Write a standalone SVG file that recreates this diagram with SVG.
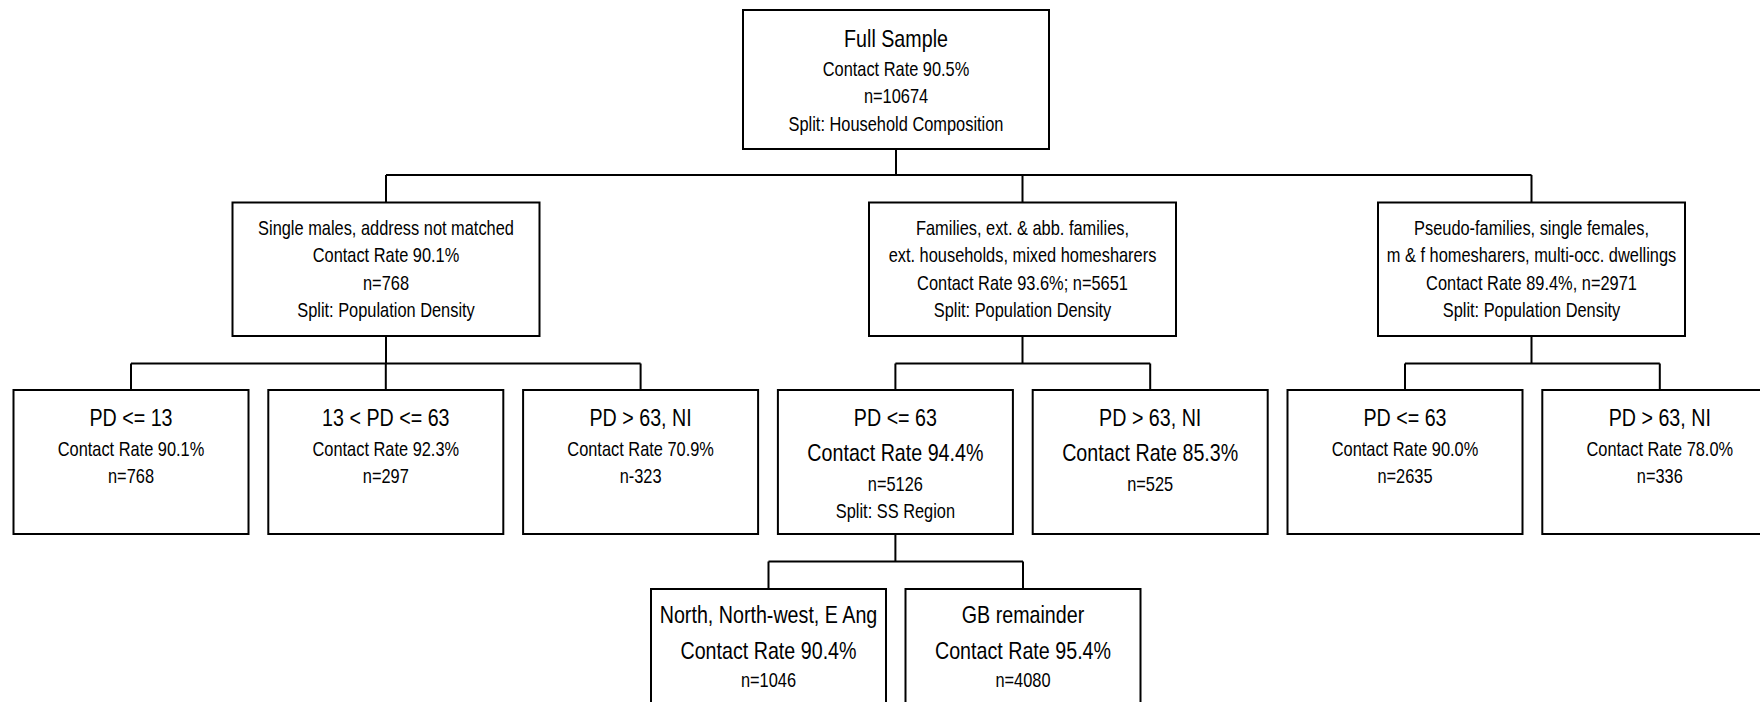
<svg xmlns="http://www.w3.org/2000/svg" width="1760" height="702" viewBox="0 0 1760 702">
<style>
rect{fill:#fff;stroke:#000;stroke-width:2}
#connectors path{fill:none;stroke:#000;stroke-width:2}
text{font-family:"Liberation Sans Narrow","Liberation Sans",Arial,sans-serif;text-anchor:middle;fill:#000}
.s{font-size:20px}
.l{font-size:24px}
</style>
<rect x="0" y="0" width="1760" height="702" style="stroke:none"/>
<g id="connectors">
<path d="M896,149V175M386,175H1531.5M386,175V202.5M1022.5,175V202.5M1531.5,175V202.5"/>
<path d="M386,336V363.5M131,363.5H640.6M131,363.5V390M385.8,363.5V390M640.6,363.5V390"/>
<path d="M1022.5,336V363.5M895.4,363.5H1150.2M895.4,363.5V390M1150.2,363.5V390"/>
<path d="M1531.5,336V363.5M1405,363.5H1659.8M1405,363.5V390M1659.8,363.5V390"/>
<path d="M895.4,534V561.5M768.5,561.5H1023M768.5,561.5V589M1023,561.5V589"/>
</g>
<g id="full-sample">
<rect x="743" y="10" width="306" height="139"/>
<g transform="translate(896,0) scale(0.82,1)">
<text x="0" y="47" class="l">Full Sample</text>
<text x="0" y="76" class="s">Contact Rate 90.5%</text>
<text x="0" y="103" class="s">n=10674</text>
<text x="0" y="131" class="s">Split: Household Composition</text>
</g>
</g>
<g id="single-males">
<rect x="232.5" y="202.5" width="307" height="133.5"/>
<g transform="translate(386,0) scale(0.82,1)">
<text x="0" y="235" class="s">Single males, address not matched</text>
<text x="0" y="262.5" class="s">Contact Rate 90.1%</text>
<text x="0" y="290" class="s">n=768</text>
<text x="0" y="317.5" class="s">Split: Population Density</text>
</g>
</g>
<g id="families">
<rect x="869" y="202.5" width="307" height="133.5"/>
<g transform="translate(1022.5,0) scale(0.82,1)">
<text x="0" y="235" class="s">Families, ext. &amp; abb. families,</text>
<text x="0" y="262.5" class="s">ext. households, mixed homesharers</text>
<text x="0" y="290" class="s">Contact Rate 93.6%; n=5651</text>
<text x="0" y="317.5" class="s">Split: Population Density</text>
</g>
</g>
<g id="pseudo-families">
<rect x="1378" y="202.5" width="307" height="133.5"/>
<g transform="translate(1531.5,0) scale(0.82,1)">
<text x="0" y="235" class="s">Pseudo-families, single females,</text>
<text x="0" y="262.5" class="s">m &amp; f homesharers, multi-occ. dwellings</text>
<text x="0" y="290" class="s">Contact Rate 89.4%, n=2971</text>
<text x="0" y="317.5" class="s">Split: Population Density</text>
</g>
</g>
<g id="a-pd-le-13">
<rect x="13.5" y="390" width="235" height="144"/>
<g transform="translate(131,0) scale(0.82,1)">
<text x="0" y="425.7" class="l">PD &lt;= 13</text>
<text x="0" y="456" class="s">Contact Rate 90.1%</text>
<text x="0" y="483.3" class="s">n=768</text>
</g>
</g>
<g id="a-pd-13-63">
<rect x="268.3" y="390" width="235" height="144"/>
<g transform="translate(385.8,0) scale(0.82,1)">
<text x="0" y="425.7" class="l">13 &lt; PD &lt;= 63</text>
<text x="0" y="456" class="s">Contact Rate 92.3%</text>
<text x="0" y="483.3" class="s">n=297</text>
</g>
</g>
<g id="a-pd-gt-63">
<rect x="523.1" y="390" width="235" height="144"/>
<g transform="translate(640.6,0) scale(0.82,1)">
<text x="0" y="425.7" class="l">PD &gt; 63, NI</text>
<text x="0" y="456" class="s">Contact Rate 70.9%</text>
<text x="0" y="483.3" class="s">n-323</text>
</g>
</g>
<g id="b-pd-le-63">
<rect x="777.9" y="390" width="235" height="144"/>
<g transform="translate(895.4,0) scale(0.82,1)">
<text x="0" y="425.7" class="l">PD &lt;= 63</text>
<text x="0" y="461" class="l">Contact Rate 94.4%</text>
<text x="0" y="491" class="s">n=5126</text>
<text x="0" y="518.3" class="s">Split: SS Region</text>
</g>
</g>
<g id="b-pd-gt-63">
<rect x="1032.7" y="390" width="235" height="144"/>
<g transform="translate(1150.2,0) scale(0.82,1)">
<text x="0" y="425.7" class="l">PD &gt; 63, NI</text>
<text x="0" y="461" class="l">Contact Rate 85.3%</text>
<text x="0" y="491" class="s">n=525</text>
</g>
</g>
<g id="c-pd-le-63">
<rect x="1287.5" y="390" width="235" height="144"/>
<g transform="translate(1405,0) scale(0.82,1)">
<text x="0" y="425.7" class="l">PD &lt;= 63</text>
<text x="0" y="456" class="s">Contact Rate 90.0%</text>
<text x="0" y="483.3" class="s">n=2635</text>
</g>
</g>
<g id="c-pd-gt-63">
<rect x="1542.3" y="390" width="235" height="144"/>
<g transform="translate(1659.8,0) scale(0.82,1)">
<text x="0" y="425.7" class="l">PD &gt; 63, NI</text>
<text x="0" y="456" class="s">Contact Rate 78.0%</text>
<text x="0" y="483.3" class="s">n=336</text>
</g>
</g>
<g id="north">
<rect x="651" y="589" width="235" height="144"/>
<g transform="translate(768.5,0) scale(0.82,1)">
<text x="0" y="623" class="l">North, North-west, E Ang</text>
<text x="0" y="659" class="l">Contact Rate 90.4%</text>
<text x="0" y="687" class="s">n=1046</text>
</g>
</g>
<g id="gb-remainder">
<rect x="905.5" y="589" width="235" height="144"/>
<g transform="translate(1023,0) scale(0.82,1)">
<text x="0" y="623" class="l">GB remainder</text>
<text x="0" y="659" class="l">Contact Rate 95.4%</text>
<text x="0" y="687" class="s">n=4080</text>
</g>
</g>
</svg>
